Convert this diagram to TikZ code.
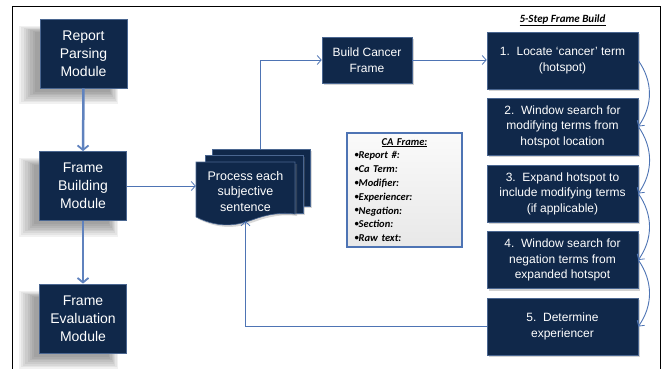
\documentclass[tikz,border=0pt]{standalone}
\usepackage{fontspec}
\setmainfont{Liberation Sans}
\newfontfamily\califont{Carlito}
\usetikzlibrary{arrows.meta, shadows, positioning}

\definecolor{navy}{HTML}{10284A}
\definecolor{navyedge}{HTML}{4A6690}
\definecolor{flowblue}{HTML}{4E74B4}
\definecolor{thickblue}{HTML}{5F82BE}

\newcommand{\cabullet}{\raisebox{1.2pt}{\fontsize{8.5}{8}\selectfont •}}

\tikzset{
  softshadow/.style={general shadow={fill=black, opacity=0.055,
    shadow xshift=-13pt, shadow yshift=-10pt, shadow scale=#1}},
  modbox/.style={fill=navy, draw=navyedge, line width=0.8pt, text=white,
    minimum width=87pt, minimum height=69pt, align=center,
    font=\fontsize{14}{18}\selectfont,
    softshadow=1.14, softshadow=1.10, softshadow=1.06, softshadow=1.02,
    softshadow=0.98, softshadow=0.94, softshadow=0.90, softshadow=0.86},
  stepbox/.style={fill=navy, draw=navyedge, line width=0.6pt, text=white,
    minimum width=151pt, minimum height=57pt, align=center,
    font=\fontsize{12}{15.5}\selectfont,
    drop shadow={shadow xshift=2pt, shadow yshift=-2pt, opacity=0.35}},
  thickarrow/.style={draw=thickblue, line width=2.5pt,
    -{Straight Barb[length=4.5pt, width=11pt, line width=1.8pt]}},
  flow/.style={draw=flowblue, line width=0.9pt,
    -{Straight Barb[length=4pt, width=9pt, line width=0.8pt]}},
}

\begin{document}
\begin{tikzpicture}[x=1pt, y=-1pt]
  \useasboundingbox (0,0) rectangle (662,368);
  \draw[black, line width=0.8pt] (12,6.5) rectangle (660.5,372);

  % left column
  \node[modbox] (rpm) at (83.5,53.5) {Report\\Parsing\\Module};
  \node[modbox] (fbm) at (83,186) {Frame\\Building\\Module};
  \node[modbox] (fem) at (83,318.5) {Frame\\Evaluation\\Module};
  \draw[thickarrow] (rpm.south) -- (fbm.north);
  \draw[thickarrow] (fbm.south) -- (fem.north);

  % stacked documents
  \fill[navy, draw=navyedge, line width=0.6pt, drop shadow={shadow xshift=2pt, shadow yshift=-2pt, opacity=0.3}]
    (212,149) rectangle (310,206);
  \fill[navy, draw=navyedge, line width=0.6pt, drop shadow={shadow xshift=2pt, shadow yshift=-2pt, opacity=0.3}]
    (205,155) rectangle (303,213);
  \fill[navy, draw=navyedge, line width=0.6pt, drop shadow={shadow xshift=2pt, shadow yshift=-2pt, opacity=0.3}]
    (196,162) -- (295,162) -- (295,214)
    .. controls (282,212) and (268,214) .. (252,220)
    .. controls (240,224) and (222,230) .. (196,217) -- cycle;
  \node[text=white, align=center, minimum width=99pt, minimum height=59pt,
    font=\fontsize{12.5}{15.5}\selectfont] (proc) at (245.5,191.5)
    {Process each\\subjective\\sentence};
  \coordinate (proctop) at (260,149);

  \node[stepbox, minimum width=90pt, minimum height=46pt,
    font=\fontsize{12}{16}\selectfont] (bcf) at (367,60) {Build Cancer\\Frame};

  % CA frame card
  \node[draw=flowblue, line width=1.5pt, top color=black!2, bottom color=black!9,
    text width=100pt, inner xsep=7.5pt, inner ysep=3pt, minimum height=114pt,
    align=left, font=\califont\bfseries\itshape\fontsize{10.5}{13.8}\selectfont]
    (caf) at (404.5,190)
    {\makebox[\linewidth]{\underline{CA Frame:}}\\
     \cabullet Report \#:\\
     \cabullet Ca Term:\\
     \cabullet Modifier:\\
     \cabullet Experiencer:\\
     \cabullet Negation:\\
     \cabullet Section:\\
     \cabullet Raw text:};

  % 5 steps
  \node[font=\califont\bfseries\itshape\fontsize{11}{13}\selectfont] (title) at (562.5,20)
    {\underline{5-Step Frame Build}};
  \node[stepbox] (s1) at (562.5,60.5) {1.\ \ Locate ‘cancer’ term\\(hotspot)};
  \node[stepbox] (s2) at (562.5,126.5) {2.\ \ Window search for\\modifying terms from\\hotspot location};
  \node[stepbox] (s3) at (562.5,193.5) {3.\ \ Expand hotspot to\\include modifying terms\\(if applicable)};
  \node[stepbox] (s4) at (562.5,260) {4.\ \ Window search for\\negation terms\ from\\expanded hotspot};
  \node[stepbox] (s5) at (562.5,326.5) {5.\ \ Determine\\experiencer};

  \foreach \a/\b in {s1/s2, s2/s3, s3/s4, s4/s5}
    \draw[flow, bend left=35] (\a.east) to (\b.east);

  % connectors
  \draw[flow] (fbm.east) -- (fbm.east -| proc.west);
  \draw[flow] (proctop) |- (bcf.west);
  \draw[flow] (bcf.east) -- (bcf.east -| s1.west);
  \draw[flow] (s5.west) -| (proc.south);
\end{tikzpicture}
\end{document}
